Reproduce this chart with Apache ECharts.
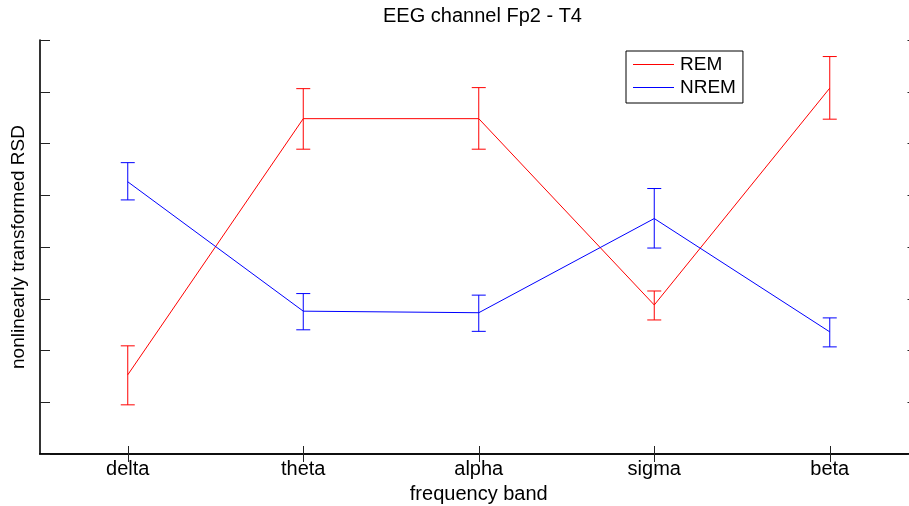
<!DOCTYPE html>
<html>
<head>
<meta charset="utf-8">
<script src="https://cdn.jsdelivr.net/npm/echarts@6/dist/echarts.min.js"></script>
<style>
html,body{margin:0;padding:0;background:#fff;}
#chart{width:909px;height:506px;}
</style>
</head>
<body>
<div id="chart"></div>
<script>
const categories = ['delta', 'theta', 'alpha', 'sigma', 'beta'];
const remMean  = [1.53, 6.48, 6.48, 2.88, 7.07];
const remLow   = [0.95, 5.89, 5.89, 2.59, 6.47];
const remHigh  = [2.09, 7.06, 7.08, 3.15, 7.68];
const nremMean = [5.26, 2.76, 2.73, 4.55, 2.36];
const nremLow  = [4.91, 2.40, 2.37, 3.98, 2.07];
const nremHigh = [5.63, 3.10, 3.07, 5.13, 2.63];
const yMin = 0, yMax = 8, yStep = 1;

const FONT = 'Liberation Sans, Arial, sans-serif';
const RED = '#ff0000', BLUE = '#0000ff';

function errData(lo, hi) {
  return categories.map((c, i) => [i, lo[i], hi[i]]);
}
function errRender(color) {
  return function (params, api) {
    const x = api.value(0);
    const p1 = api.coord([x, api.value(1)]);
    const p2 = api.coord([x, api.value(2)]);
    const hw = 7;
    const st = { stroke: color, lineWidth: 1 };
    return {
      type: 'group',
      children: [
        { type: 'line', shape: { x1: p1[0], y1: p1[1], x2: p2[0], y2: p2[1] }, style: st },
        { type: 'line', shape: { x1: p1[0] - hw, y1: p1[1], x2: p1[0] + hw, y2: p1[1] }, style: st },
        { type: 'line', shape: { x1: p2[0] - hw, y1: p2[1], x2: p2[0] + hw, y2: p2[1] }, style: st }
      ]
    };
  };
}

const chart = echarts.init(document.getElementById('chart'), null, { renderer: 'canvas' });
const axisLine = { show: true, lineStyle: { color: '#000', width: 1.6 } };
const tickStyle = { color: '#222', width: 1 };
chart.setOption({
  animation: false,
  backgroundColor: '#fff',
  title: {
    text: 'EEG channel Fp2 - T4',
    left: 383, top: 6, padding: 0,
    textStyle: { fontFamily: FONT, fontSize: 20, fontWeight: 'normal', color: '#000' }
  },
  legend: {
    orient: 'vertical',
    left: 626, top: 51,
    padding: [4, 7, 6, 7],
    itemGap: 4,
    itemWidth: 41, itemHeight: 1,
    icon: 'rect',
    borderColor: '#000', borderWidth: 1,
    backgroundColor: '#fff',
    textStyle: { fontFamily: FONT, fontSize: 19, color: '#000', padding: [0, 0, 0, 1] },
    data: ['REM', 'NREM']
  },
  grid: { left: 40, top: 40, right: -8.5, bottom: 52, containLabel: false, outerBoundsMode: 'none' },
  xAxis: [
    {
      type: 'category', data: categories, position: 'bottom',
      axisLine: axisLine,
      axisTick: { show: true, inside: true, alignWithLabel: true, length: 8, lineStyle: tickStyle },
      axisLabel: { fontFamily: FONT, fontSize: 20, color: '#000', margin: 5 },
      name: 'frequency band', nameLocation: 'middle', nameGap: 30,
      nameTextStyle: { fontFamily: FONT, fontSize: 20, color: '#000' }
    },
    {
      type: 'category', data: categories, position: 'top',
      axisLine: axisLine,
      axisTick: { show: true, inside: true, alignWithLabel: true, length: 8, lineStyle: tickStyle },
      axisLabel: { show: false }
    }
  ],
  yAxis: [
    {
      type: 'value', min: yMin, max: yMax, interval: yStep, position: 'left',
      axisLine: axisLine,
      axisTick: { show: true, inside: true, length: 10, lineStyle: tickStyle },
      axisLabel: { show: false },
      splitLine: { show: false },
      name: 'nonlinearly transformed RSD', nameLocation: 'middle', nameGap: 12,
      nameTextStyle: { fontFamily: FONT, fontSize: 19, color: '#000' }
    },
    {
      type: 'value', min: yMin, max: yMax, interval: yStep, position: 'right',
      axisLine: axisLine,
      axisTick: { show: true, inside: true, length: 10, lineStyle: tickStyle },
      axisLabel: { show: false },
      splitLine: { show: false }
    }
  ],
  series: [
    { name: 'REM', type: 'line', data: remMean, symbol: 'none', color: RED, lineStyle: { color: RED, width: 1 }, z: 3 },
    { name: 'NREM', type: 'line', data: nremMean, symbol: 'none', color: BLUE, lineStyle: { color: BLUE, width: 1 }, z: 3 },
    { name: 'REM', type: 'custom', data: errData(remLow, remHigh), renderItem: errRender(RED), z: 4 },
    { name: 'NREM', type: 'custom', data: errData(nremLow, nremHigh), renderItem: errRender(BLUE), z: 4 }
  ]
});
</script>
</body>
</html>
